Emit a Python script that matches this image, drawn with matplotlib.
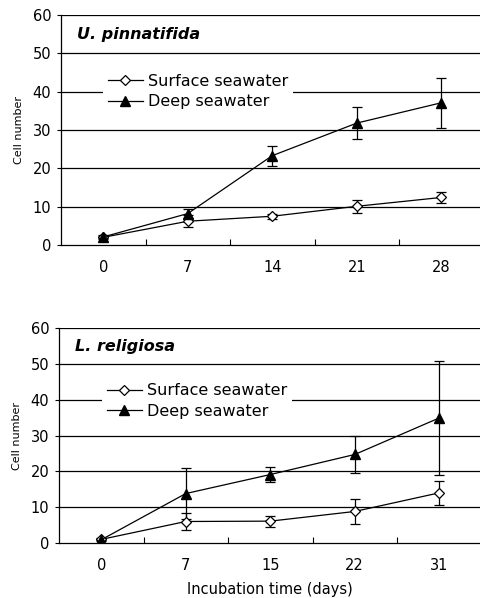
import matplotlib
matplotlib.use("Agg")
import matplotlib.pyplot as plt
from matplotlib.lines import Line2D
import numpy as np

plt.rcParams['font.family'] = ['DejaVu Sans']

# Top panel: U. pinnatifida
top_days = ["0", "7", "14", "21", "28"]
top_surface = [2.0, 6.2, 7.5, 10.1, 12.4]
top_surface_err = [0.4, 1.5, 0.6, 1.7, 1.5]
top_deep = [2.1, 8.2, 23.3, 31.8, 37.1]
top_deep_err = [0.4, 1.2, 2.6, 4.2, 6.5]

# Bottom panel: L. religiosa
bot_days = ["0", "7", "15", "22", "31"]
bot_surface = [1.0, 6.0, 6.1, 8.8, 14.0]
bot_surface_err = [0.3, 2.5, 1.5, 3.5, 3.3]
bot_deep = [0.9, 13.8, 19.1, 24.7, 34.9]
bot_deep_err = [0.3, 7.1, 2.2, 5.3, 16.0]

species = ["U. pinnatifida", "L. religiosa"]
series_names = ["Surface seawater", "Deep seawater"]
yticks = [0, 10, 20, 30, 40, 50, 60]

fig = plt.figure(figsize=(4.8, 5.98), dpi=100)
ax1 = fig.add_axes([61/480, 1-245/598, (480-61)/480, 230/598])
ax2 = fig.add_axes([59/480, 1-543/598, (480-59)/480, 215/598])

surf_style = dict(marker='D', markersize=5.5, markerfacecolor='white',
                  markeredgecolor='black', markeredgewidth=0.9)
deep_style = dict(marker='^', markersize=7, markerfacecolor='black',
                  markeredgecolor='black')

panels = [
    (ax1, top_days, top_surface, top_surface_err, top_deep, top_deep_err, species[0],
     (480-61)/84.5 - 0.5, (0.10, 0.765)),
    (ax2, bot_days, bot_surface, bot_surface_err, bot_deep, bot_deep_err, species[1],
     (480-59)/84.5 - 0.5, (0.102, 0.765)),
]

for ax, days, s, se, d, de, name, xmax, anchor in panels:
    x = np.arange(len(days))
    ax.set_xlim(-0.5, xmax)
    ax.set_ylim(0, 60)
    ax.set_yticks(yticks)
    for yv in yticks[1:]:
        ax.axhline(yv, color='black', lw=0.9, zorder=0)
    ax.errorbar(x, s, yerr=se, color='black', lw=0.9, capsize=3.5, capthick=0.9,
                zorder=3, **surf_style)
    ax.errorbar(x, d, yerr=de, color='black', lw=0.9, capsize=3.5, capthick=0.9,
                zorder=3, **deep_style)
    ax.set_xticks(x)
    ax.set_xticklabels(days, fontsize=10.5)
    ax.set_xticks(np.arange(len(days) - 1) + 0.5, minor=True)
    ax.tick_params(axis='x', which='major', length=0, pad=11)
    ax.tick_params(axis='x', which='minor', direction='in', length=4, width=0.8)
    ax.tick_params(axis='y', which='major', direction='out', length=3, width=0.8,
                   labelsize=10.5, pad=4)
    for sp in ['top', 'right']:
        ax.spines[sp].set_visible(False)
    ax.spines['left'].set_linewidth(0.9)
    ax.spines['bottom'].set_linewidth(0.9)
    ax.set_ylabel("Cell number", fontsize=8, labelpad=6)
    ax.text(16/419, 0.915, name, transform=ax.transAxes, fontsize=11.5,
            fontweight='bold', fontstyle='italic', va='center', ha='left')
    handles = [Line2D([], [], color='black', lw=0.9, **surf_style),
               Line2D([], [], color='black', lw=0.9, **deep_style)]
    leg = ax.legend(handles, series_names, loc='upper left', bbox_to_anchor=anchor,
                    frameon=True, fontsize=11.5, handlelength=2.2, handletextpad=0.3,
                    labelspacing=0.35, borderpad=0.3, borderaxespad=0)
    leg.get_frame().set_edgecolor('none')
    leg.get_frame().set_facecolor('white')
    leg.get_frame().set_alpha(1)
    leg.set_zorder(5)

ax2.set_xlabel("Incubation time (days)", fontsize=10.5, labelpad=6)

fig.savefig("out.png", dpi=100)
